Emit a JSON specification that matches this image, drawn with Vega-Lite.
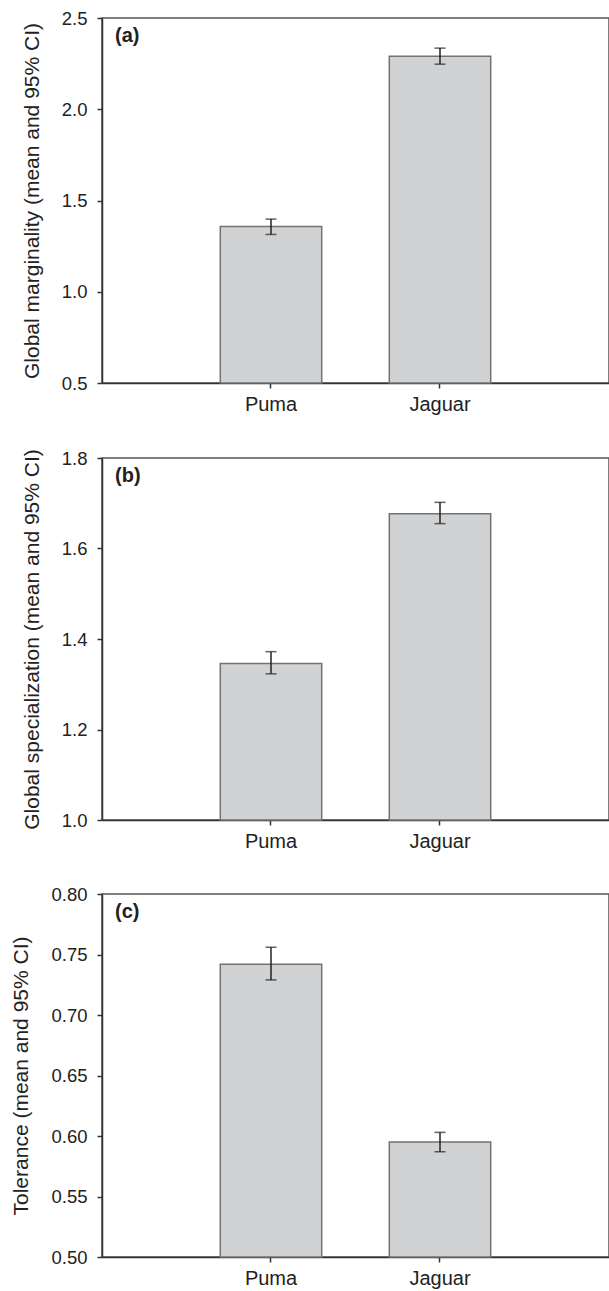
{
  "$schema": "https://vega.github.io/schema/vega-lite/v6.json",
  "padding": {"left": 10, "top": 8, "right": 1, "bottom": 0},
  "spacing": 32,
  "datasets": {
    "bars": [
      {"panel": "a", "species": "Puma", "mean": 1.357, "lo": 1.314, "hi": 1.398},
      {"panel": "a", "species": "Jaguar", "mean": 2.29, "lo": 2.247, "hi": 2.335},
      {"panel": "b", "species": "Puma", "mean": 1.346, "lo": 1.323, "hi": 1.372},
      {"panel": "b", "species": "Jaguar", "mean": 1.677, "lo": 1.655, "hi": 1.702},
      {"panel": "c", "species": "Puma", "mean": 0.742, "lo": 0.729, "hi": 0.756},
      {"panel": "c", "species": "Jaguar", "mean": 0.595, "lo": 0.587, "hi": 0.603}
    ]
  },
  "config": {
    "font": "Liberation Sans",
    "view": {"stroke": "#555", "strokeWidth": 1.5},
    "axis": {"domainColor": "#333", "domainWidth": 1.5, "tickColor": "#333", "tickWidth": 1.5, "tickSize": 5, "labelColor": "#222", "titleColor": "#222", "labelFont": "Liberation Sans", "titleFont": "Liberation Sans", "grid": false},
    "axisY": {"labelFontSize": 18.5, "labelPadding": 10, "titleFontSize": 21, "titleFontWeight": "normal", "titlePadding": 19},
    "axisX": {"labelFontSize": 20, "labelPadding": 6, "labelAngle": 0, "title": null},
    "title": {"anchor": "start", "frame": "group", "fontSize": 20, "fontWeight": "bold", "color": "#222", "baseline": "top", "offset": -37, "dx": 13}
  },
  "vconcat": [
    {
      "width": 507, "height": 365,
      "title": {"text": "(a)"},
      "data": {"name": "bars"},
      "transform": [{"filter": "datum.panel === 'a'"}],
      "layer": [
        {"mark": {"type": "bar", "fill": "#d1d2d4", "stroke": "#727272", "strokeWidth": 1.5},
         "encoding": {
           "x": {"field": "species", "type": "nominal", "sort": ["Puma", "Jaguar"], "scale": {"paddingInner": 0.4, "paddingOuter": 0.7}, "title": null},
           "y": {"field": "mean", "type": "quantitative", "title": "Global marginality (mean and 95% CI)", "scale": {"domain": [0.5, 2.5], "zero": false, "nice": false}, "axis": {"values": [0.5, 1, 1.5, 2, 2.5], "format": ".1f"}},
           "y2": {"datum": 0.5}}},
        {"mark": {"type": "errorbar", "color": "#222", "ticks": {"size": 11, "thickness": 1.5}, "rule": {"strokeWidth": 1.5}},
         "encoding": {
           "x": {"field": "species", "type": "nominal", "sort": ["Puma", "Jaguar"], "title": null},
           "y": {"field": "lo", "type": "quantitative", "title": "Global marginality (mean and 95% CI)"},
           "y2": {"field": "hi"}}}
      ]
    },
    {
      "width": 507, "height": 362,
      "title": {"text": "(b)"},
      "data": {"name": "bars"},
      "transform": [{"filter": "datum.panel === 'b'"}],
      "layer": [
        {"mark": {"type": "bar", "fill": "#d1d2d4", "stroke": "#727272", "strokeWidth": 1.5},
         "encoding": {
           "x": {"field": "species", "type": "nominal", "sort": ["Puma", "Jaguar"], "scale": {"paddingInner": 0.4, "paddingOuter": 0.7}, "title": null},
           "y": {"field": "mean", "type": "quantitative", "title": "Global specialization (mean and 95% CI)", "scale": {"domain": [1.0, 1.8], "zero": false, "nice": false}, "axis": {"values": [1.0, 1.2, 1.4, 1.6, 1.8], "format": ".1f"}},
           "y2": {"datum": 1.0}}},
        {"mark": {"type": "errorbar", "color": "#222", "ticks": {"size": 11, "thickness": 1.5}, "rule": {"strokeWidth": 1.5}},
         "encoding": {
           "x": {"field": "species", "type": "nominal", "sort": ["Puma", "Jaguar"], "title": null},
           "y": {"field": "lo", "type": "quantitative", "title": "Global specialization (mean and 95% CI)"},
           "y2": {"field": "hi"}}}
      ]
    },
    {
      "width": 507, "height": 363,
      "title": {"text": "(c)"},
      "data": {"name": "bars"},
      "transform": [{"filter": "datum.panel === 'c'"}],
      "layer": [
        {"mark": {"type": "bar", "fill": "#d1d2d4", "stroke": "#727272", "strokeWidth": 1.5},
         "encoding": {
           "x": {"field": "species", "type": "nominal", "sort": ["Puma", "Jaguar"], "scale": {"paddingInner": 0.4, "paddingOuter": 0.7}, "title": null},
           "y": {"field": "mean", "type": "quantitative", "title": "Tolerance (mean and 95% CI)", "scale": {"domain": [0.5, 0.8], "zero": false, "nice": false}, "axis": {"values": [0.5, 0.55, 0.6, 0.65, 0.7, 0.75, 0.8], "format": ".2f"}},
           "y2": {"datum": 0.5}}},
        {"mark": {"type": "errorbar", "color": "#222", "ticks": {"size": 11, "thickness": 1.5}, "rule": {"strokeWidth": 1.5}},
         "encoding": {
           "x": {"field": "species", "type": "nominal", "sort": ["Puma", "Jaguar"], "title": null},
           "y": {"field": "lo", "type": "quantitative", "title": "Tolerance (mean and 95% CI)"},
           "y2": {"field": "hi"}}}
      ]
    }
  ]
}
